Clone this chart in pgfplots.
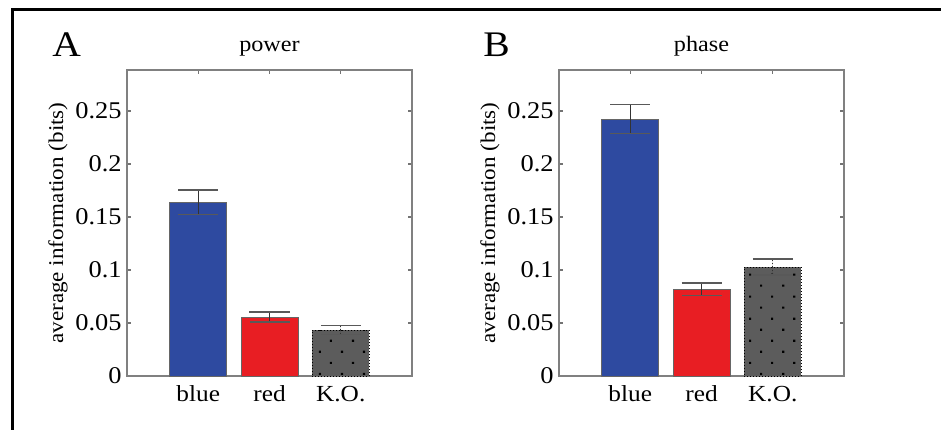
\documentclass[border=0pt]{standalone}
\usepackage{fontspec}
\setmainfont{Liberation Serif}[FakeStretch=1.1]
\usepackage{pgfplots}
\pgfplotsset{compat=1.18}
\usetikzlibrary{patterns.meta}
\definecolor{mblue}{RGB}{46,74,160}
\definecolor{mred}{RGB}{232,30,35}
\definecolor{mgray}{RGB}{92,92,92}

\pgfplotsset{
 panel/.style={
  scale only axis, width=142.5pt, height=153pt,
  xmin=0, xmax=4, ymin=0, ymax=0.2887,
  ybar, bar width=0.8,
  xtick={1,2,3}, xticklabels={blue,red,K.O.},
  ytick={0,0.05,0.1,0.15,0.2,0.25},
  yticklabels={0,0.05,0.1,0.15,0.2,0.25},
  minor tick num=0,
  xtick pos=both, ytick pos=both,
  xticklabel pos=lower, yticklabel pos=left,
  tick align=inside, major tick length=2pt,
  tick style={black!55, line width=0.6pt},
  axis line style={black!50, line width=0.9pt},
  /pgf/number format/assume math mode=true,
  xticklabel style={anchor=base, inner sep=0pt, yshift=-12.5pt, font=\fontsize{11.5}{13}\selectfont},
  yticklabel style={anchor=east, inner sep=0pt, xshift=-2.5pt, font=\fontsize{12}{14}\selectfont},
  every axis y label/.style={at={(axis description cs:-0.242,0.5)}, rotate=90, anchor=center, font=\fontsize{10.5}{12}\selectfont},
  ylabel={average information (bits)},
  every axis title/.style={at={(axis description cs:0.5,1)}, anchor=base, inner sep=0pt, yshift=9pt, font=\fontsize{11}{13}\selectfont},
  error bars/y dir=both, error bars/y explicit,
  error bars/error bar style={black!80, line width=0.6pt},
  error bars/error mark options={rotate=90, mark size=10pt, black!65, line width=0.6pt},
 },
 bblue/.style={bar shift=0pt, fill=mblue, draw=black!60, line width=0.4pt},
 bred/.style={bar shift=0pt, fill=mred, draw=black!60, line width=0.4pt},
 bko/.style={bar shift=0pt, fill=mgray, draw=black, line width=0.5pt, densely dotted,
   postaction={pattern={Dots[angle=45, distance=7.8pt, radius=0.75pt]}, pattern color=black}},
}

\begin{document}
\begin{tikzpicture}
\useasboundingbox (0pt,0pt) rectangle (470.5pt,214.5pt);
\draw[line width=1.5pt, line join=miter] (6.25pt,-3pt) -- (6.25pt,209.5pt) -- (474pt,209.5pt);

\node[anchor=base west, inner sep=0pt, font=\fontsize{18}{20}\selectfont] at (26pt,186pt) {A};
\node[anchor=base west, inner sep=0pt, font=\fontsize{18}{20}\selectfont] at (241.5pt,186pt) {B};

\begin{axis}[panel, at={(63.5pt,26.5pt)}, anchor=south west, title={power}]
\addplot[bblue] coordinates {(1,0.164) +- (0,0.0115)};
\addplot[bred] coordinates {(2,0.0557) +- (0,0.0047)};
\addplot[bko] coordinates {(3,0.0434) +- (0,0.0045)};
\end{axis}

\begin{axis}[panel, at={(279.5pt,26.5pt)}, anchor=south west, title={phase}]
\addplot[bblue] coordinates {(1,0.2425) +- (0,0.014)};
\addplot[bred] coordinates {(2,0.082) +- (0,0.0057)};
\addplot[bko] coordinates {(3,0.1028) +- (0,0.0075)};
\end{axis}
\end{tikzpicture}
\end{document}
